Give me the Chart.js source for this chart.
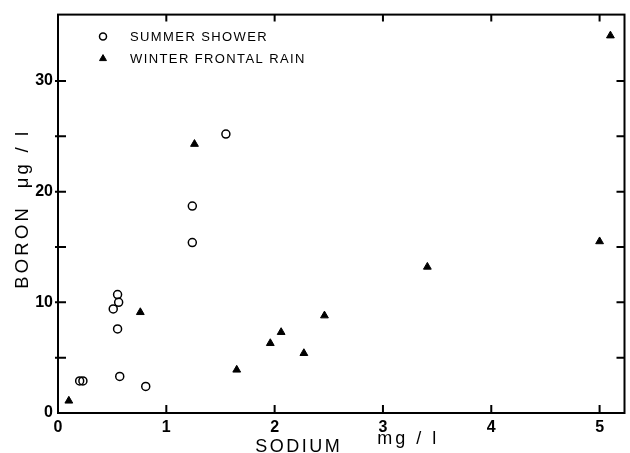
<!DOCTYPE html>
<html>
<head>
<meta charset="utf-8">
<script src="https://cdn.jsdelivr.net/npm/chart.js@4/dist/chart.umd.min.js"></script>
<style>
  html, body { margin: 0; padding: 0; background: #fff; }
</style>
</head>
<body>
<canvas id="chart" width="630" height="453"></canvas>
<script>
// summer shower samples
const summerSodium = [0.2, 0.23, 0.51, 0.55, 0.56, 0.55, 0.57, 0.81, 1.24, 1.24, 1.55];
const summerBoron  = [2.9, 2.9, 9.4, 10.7, 10.0, 7.6, 3.3, 2.4, 15.4, 18.7, 25.2];

// winter frontal rain samples
const winterSodium = [0.1, 0.76, 1.26, 1.65, 1.96, 2.06, 2.27, 2.46, 3.41, 5.0, 5.1];
const winterBoron  = [1.1, 9.1, 24.3, 3.9, 6.3, 7.3, 5.4, 8.8, 13.2, 15.5, 34.1];

const seriesNames = ["SUMMER SHOWER", "WINTER FRONTAL RAIN"];
const xTicks = [0, 1, 2, 3, 4, 5];
const yTicks = [0, 5, 10, 15, 20, 25, 30];
const yLabelled = [0, 10, 20, 30];
const xTitle = ["SODIUM", "mg / l"];
const yTitle = "BORON  μg / l";

const FONT = "'Liberation Sans', Arial, sans-serif";

function toPoints(xs, ys) {
  return xs.map((x, i) => ({ x: x, y: ys[i] }));
}

// box round the plot + inward ticks on all four sides
const frame = {
  id: "frame",
  afterDraw(chart) {
    const ctx = chart.ctx;
    const a = chart.chartArea;
    const xs = chart.scales.x, ys = chart.scales.y;
    ctx.save();
    ctx.strokeStyle = "#000";
    ctx.lineWidth = 2;
    ctx.strokeRect(a.left, a.top, a.right - a.left, a.bottom - a.top);
    ctx.beginPath();
    xTicks.forEach(v => {
      const px = xs.getPixelForValue(v);
      if (v > 0) {
        ctx.moveTo(px, a.bottom); ctx.lineTo(px, a.bottom - 8);
        ctx.moveTo(px, a.top); ctx.lineTo(px, a.top + 7);
      }
    });
    yTicks.forEach(v => {
      const py = ys.getPixelForValue(v);
      if (v > 0) {
        ctx.moveTo(a.left - 3, py); ctx.lineTo(a.left + 8, py);
        ctx.moveTo(a.right, py); ctx.lineTo(a.right - 8, py);
      }
    });
    ctx.stroke();
    ctx.restore();
  }
};

// axis titles, spaced out like the original lettering
const titles = {
  id: "titles",
  afterDraw(chart) {
    const ctx = chart.ctx;
    const a = chart.chartArea;
    const cx = (a.left + a.right) / 2;
    const cy = (a.top + a.bottom) / 2;
    ctx.save();
    ctx.fillStyle = "#000";
    ctx.textBaseline = "alphabetic";
    ctx.textAlign = "left";

    ctx.font = "18px " + FONT;
    ctx.letterSpacing = "2.5px";
    ctx.fillText(xTitle[0], cx - 86, a.bottom + 39);
    ctx.font = "18px " + FONT;
    ctx.letterSpacing = "3px";
    ctx.fillText(xTitle[1], cx + 36, a.bottom + 31);

    ctx.translate(21 + 6.5, cy + 75);
    ctx.rotate(-Math.PI / 2);
    ctx.font = "18.5px " + FONT;
    ctx.letterSpacing = "3.2px";
    ctx.fillText(yTitle, 0, 0);
    ctx.restore();
  }
};

// legend drawn inside the plot, top left
const innerLegend = {
  id: "innerLegend",
  afterDraw(chart) {
    const ctx = chart.ctx;
    const a = chart.chartArea;
    ctx.save();
    ctx.font = "13px " + FONT;
    ctx.letterSpacing = "1.4px";
    ctx.textBaseline = "middle";
    chart.data.datasets.forEach((ds, i) => {
      const y = a.top + 22 + i * 22;
      const mx = a.left + 45;
      ctx.strokeStyle = "#000";
      ctx.fillStyle = ds.pointBackgroundColor;
      ctx.lineWidth = ds.pointBorderWidth;
      Chart.helpers.drawPoint(ctx, { pointStyle: ds.pointStyle, radius: ds.pointRadius - 0.5, rotation: 0, borderWidth: ds.pointBorderWidth }, mx, y);
      ctx.fillStyle = "#000";
      ctx.fillText(ds.label, a.left + 72, y + 1);
    });
    ctx.restore();
  }
};

new Chart(document.getElementById("chart"), {
  type: "scatter",
  data: {
    datasets: [
      {
        label: seriesNames[0],
        data: toPoints(summerSodium, summerBoron),
        pointStyle: "circle",
        pointRadius: 4,
        pointBorderWidth: 1.5,
        pointBorderColor: "#000",
        pointBackgroundColor: "rgba(0,0,0,0)"
      },
      {
        label: seriesNames[1],
        data: toPoints(winterSodium, winterBoron),
        pointStyle: "triangle",
        pointRadius: 4.5,
        pointBorderWidth: 1,
        pointBorderColor: "#000",
        pointBackgroundColor: "#000"
      }
    ]
  },
  options: {
    responsive: false,
    animation: false,
    layout: { padding: { top: 14, right: 2, left: 0, bottom: 0 } },
    plugins: {
      legend: { display: false },
      tooltip: { enabled: false }
    },
    scales: {
      x: {
        type: "linear",
        min: 0,
        max: 5.23,
        afterBuildTicks: s => { s.ticks = xTicks.map(v => ({ value: v })); },
        afterFit: s => { s.height = 40; },
        grid: { display: false, drawTicks: false },
        border: { display: false },
        ticks: {
          padding: 5,
          color: "#000",
          font: { family: FONT, size: 16, weight: "bold" }
        }
      },
      y: {
        type: "linear",
        min: 0,
        max: 36,
        afterBuildTicks: s => { s.ticks = yTicks.map(v => ({ value: v })); },
        afterFit: s => { s.width = 58; },
        grid: { display: false, drawTicks: false },
        border: { display: false },
        ticks: {
          padding: 5,
          color: "#000",
          font: { family: FONT, size: 16, weight: "bold" },
          callback: v => yLabelled.includes(v) ? String(v) : ""
        }
      }
    }
  },
  plugins: [frame, titles, innerLegend]
});
</script>
</body>
</html>
